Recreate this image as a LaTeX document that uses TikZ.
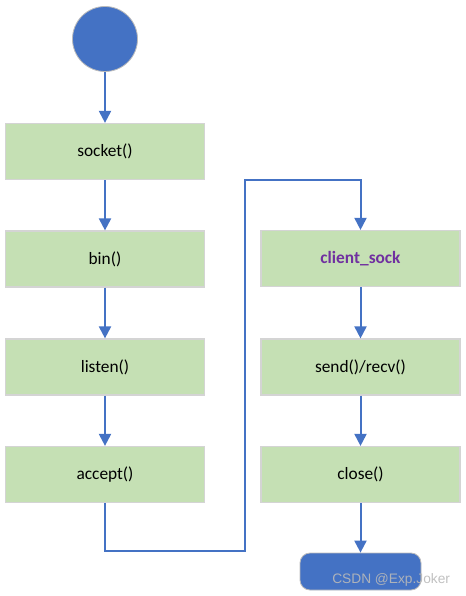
\documentclass[tikz,border=0pt]{standalone}
\usepackage{fontspec}
\setmainfont{Carlito}
\newfontfamily\wmfont{Liberation Sans}
\usetikzlibrary{arrows.meta}
\definecolor{boxgreen}{HTML}{C5E0B4}
\definecolor{boxline}{HTML}{D4D4D4}
\definecolor{flowblue}{HTML}{4472C4}
\definecolor{txtpurple}{HTML}{7030A0}
\tikzset{
  stepbox/.style={draw=boxline, line width=0.9pt, fill=boxgreen, minimum width=199*0.75pt, minimum height=56*0.75pt, inner sep=0pt, font=\fontsize{13}{15}\selectfont, text=black},
  flow/.style={draw=flowblue, line width=1.5pt, -{Triangle[width=9pt,length=9pt]}},
}
\begin{document}
\begin{tikzpicture}[x=0.75pt,y=-0.75pt]
\useasboundingbox (0,0) rectangle (465,596);
\node[circle, draw=boxline!70!gray, line width=0.6pt, fill=flowblue, minimum size=65*0.75pt, inner sep=0pt] (start) at (105,39) {};
\node[stepbox] (socket) at (105,151.5) {socket()};
\node[stepbox] (bin) at (105,259) {bin()};
\node[stepbox] (listen) at (105,367) {listen()};
\node[stepbox] (accept) at (105,474.5) {accept()};
\node[stepbox, text=txtpurple, font=\fontsize{13}{15}\selectfont\bfseries] (client) at (360.5,258.5) {client\_sock};
\node[stepbox] (send) at (360.5,367) {send()/recv()};
\node[stepbox] (close) at (360.5,474.5) {close()};
\node[rectangle, rounded corners=10*0.75pt, draw=boxline!70!gray, line width=0.6pt, fill=flowblue, minimum width=121*0.75pt, minimum height=37*0.75pt, inner sep=0pt] (end) at (360.5,571.5) {};
\coordinate (c1) at (105,551);
\coordinate (c2) at (245,551);
\coordinate (c3) at (245,180);
\coordinate (c4) at (360.5,180);
\draw[flow] (start) -- (socket);
\draw[flow] (socket) -- (bin);
\draw[flow] (bin) -- (listen);
\draw[flow] (listen) -- (accept);
\draw[flow] (accept.south) -- (c1) -- (c2) -- (c3) -- (c4) -- (client.north);
\draw[flow] (client) -- (send);
\draw[flow] (send) -- (close);
\draw[flow] (close) -- (end);
\node[anchor=base west, inner sep=0pt, text=gray!55, opacity=0.9, font=\wmfont\fontsize{10.3}{12}\selectfont] (wm) at (332,583) {CSDN @Exp.Joker};
\end{tikzpicture}
\end{document}
